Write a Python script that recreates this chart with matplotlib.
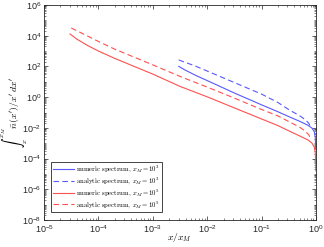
import numpy as np
import matplotlib
matplotlib.use("Agg")
import matplotlib.pyplot as plt
from matplotlib.ticker import LogLocator, NullFormatter

plt.rcParams["mathtext.fontset"] = "cm"
plt.rcParams["font.family"] = ["Liberation Sans", "DejaVu Sans"]

# values (x/x_M, integral)
x_num_5 = [3.0e-5, 4.0e-5, 6.3e-5, 1.0e-4, 2.0e-4, 4.0e-4, 1.0e-3, 3.16e-3, 1.0e-2,
           3.16e-2, 0.1, 0.2, 0.33, 0.5, 0.71, 0.85, 0.933, 0.973, 0.991, 0.9965]
y_num_5 = [1.29e4, 6.0e3, 2.3e3, 1.0e3, 3.31e2, 1.2e2, 3.16e1, 5.0, 1.05,
           0.2, 3.8e-2, 1.41e-2, 6.0e-3, 3.0e-3, 1.66e-3, 1.0e-3, 5.6e-4, 2.5e-4, 6.3e-5, 1.6e-5]

x_ana_5 = [3.16e-5, 6.3e-5, 1.0e-4, 2.0e-4, 4.0e-4, 1.0e-3, 3.16e-3, 1.0e-2,
           3.16e-2, 0.1, 0.2, 0.33, 0.5, 0.63, 0.74, 0.79]
y_ana_5 = [3.16e4, 9.5e3, 4.2e3, 1.32e3, 4.79e2, 1.26e2, 2.24e1, 4.5,
           0.87, 0.158, 6.0e-2, 2.4e-2, 1.12e-2, 6.3e-3, 3.5e-3, 2.2e-3]

x_num_3 = [3.0e-3, 4.0e-3, 6.3e-3, 1.0e-2, 3.16e-2, 0.1, 0.2, 0.33, 0.5,
           0.71, 0.85, 0.933, 0.973, 0.991]
y_num_3 = [1.0e2, 5.6e1, 2.5e1, 1.2e1, 1.86, 0.316, 0.112, 5.1e-2, 2.7e-2,
           1.5e-2, 9.5e-3, 5.6e-3, 2.5e-3, 5.0e-4]

x_ana_3 = [3.0e-3, 6.3e-3, 1.0e-2, 3.16e-2, 0.1, 0.2, 0.33, 0.5, 0.63, 0.74, 0.79]
y_ana_3 = [2.63e2, 1.0e2, 5.0e1, 8.9, 1.58, 0.45, 0.141, 6.3e-2, 3.5e-2, 2.0e-2, 1.2e-2]

blue = "#5858ff"
red = "#ff5050"

fig = plt.figure(figsize=(3.24, 2.47), dpi=100)
ax = fig.add_axes([0.136, 0.109, 0.839, 0.871])

ax.loglog(x_num_3, y_num_3, "-", color=blue, lw=0.8,
          label=r"numeric spectrum, $x_M = 10^3$")
ax.loglog(x_ana_3, y_ana_3, "--", color=blue, lw=0.8, dashes=(5, 3),
          label=r"analytic spectrum, $x_M = 10^3$")
ax.loglog(x_num_5, y_num_5, "-", color=red, lw=0.8,
          label=r"numeric spectrum, $x_M = 10^5$")
ax.loglog(x_ana_5, y_ana_5, "--", color=red, lw=0.8, dashes=(5, 3),
          label=r"analytic spectrum, $x_M = 10^5$")

ax.set_xlim(1e-5, 1e0)
ax.set_ylim(1e-8, 1e6)
ax.set_xticks([1e-5, 1e-4, 1e-3, 1e-2, 1e-1, 1e0])
ax.set_yticks([1e-8, 1e-6, 1e-4, 1e-2, 1e0, 1e2, 1e4, 1e6])
ax.xaxis.set_minor_locator(LogLocator(base=10, subs=np.arange(2, 10), numticks=50))
ax.yaxis.set_minor_locator(LogLocator(base=10, subs=np.arange(1, 10), numticks=50))
ax.yaxis.set_minor_formatter(NullFormatter())
ax.xaxis.set_minor_formatter(NullFormatter())

ax.tick_params(which="both", direction="in", top=True, right=True,
               colors="#262626", labelsize=6.5, pad=2)
ax.tick_params(which="major", length=3, width=0.5)
ax.tick_params(which="minor", length=1.5, width=0.4)
for s in ax.spines.values():
    s.set_linewidth(0.6)
    s.set_color("#262626")

ax.set_xlabel(r"$x/x_M$", fontsize=7)
ax.set_ylabel(r"$\int_x^{x_M}\bar{n}(x')/x'\,dx'$", fontsize=7)
ax.xaxis.set_label_coords(0.5, -0.079)
ax.yaxis.set_label_coords(-0.108, 0.5)
ax.xaxis.label.set_va("center")
ax.yaxis.label.set_va("center")

leg = ax.legend(loc="lower left", bbox_to_anchor=(0.026, 0.037), borderaxespad=0,
                prop={"family": "cmr10", "size": 4.8}, fancybox=False,
                handlelength=3.2, labelspacing=0.2, borderpad=0.3,
                handletextpad=0.3, framealpha=1)
leg.get_frame().set_edgecolor("#262626")
leg.get_frame().set_linewidth(0.6)

fig.savefig("out.png", dpi=100)
